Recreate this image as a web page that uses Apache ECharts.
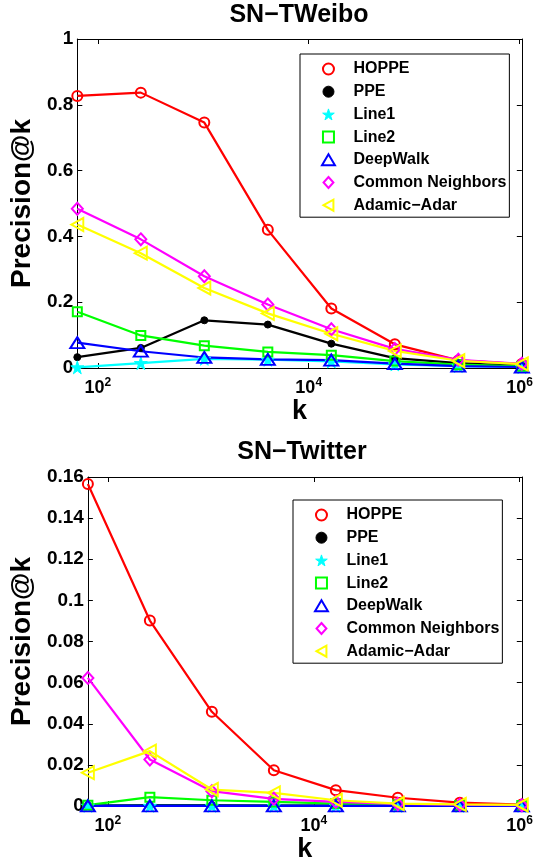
<!DOCTYPE html>
<html>
<head>
<meta charset="utf-8">
<title>Precision@k</title>
<script src="https://cdn.jsdelivr.net/npm/echarts@6/dist/echarts.min.js"></script>
<style>
html, body { margin: 0; padding: 0; background: #fff; }
#chart { width: 536px; height: 866px; }
</style>
</head>
<body>
<div id="chart"></div>
<script>
// k values (powers of 4)
var kValues = [64, 256, 1024, 4096, 16384, 65536, 262144, 1048576];
var xTickValues = [100, 10000, 1000000];

var methodNames = ['HOPPE', 'PPE', 'Line1', 'Line2', 'DeepWalk', 'Common Neighbors', 'Adamic\u2212Adar'];

// SN-TWeibo
var hoppeWeibo = [0.827, 0.837, 0.746, 0.420, 0.181, 0.072, 0.023, 0.012];
var ppeWeibo = [0.033, 0.061, 0.145, 0.132, 0.074, 0.030, 0.015, 0.006];
var line1Weibo = [0.002, 0.015, 0.028, 0.025, 0.020, 0.011, 0.006, 0.003];
var line2Weibo = [0.171, 0.099, 0.068, 0.049, 0.039, 0.021, 0.010, 0.005];
var deepWalkWeibo = [0.077, 0.051, 0.032, 0.026, 0.024, 0.013, 0.006, 0.003];
var cnWeibo = [0.484, 0.391, 0.279, 0.193, 0.118, 0.058, 0.025, 0.013];
var aaWeibo = [0.436, 0.349, 0.243, 0.166, 0.104, 0.052, 0.022, 0.012];

// SN-Twitter
var hoppeTwitter = [0.1566, 0.0902, 0.0458, 0.0174, 0.0077, 0.0040, 0.0016, 0.0007];
var ppeTwitter = [0.0003, 0.0004, 0.0004, 0.0003, 0.0003, 0.0002, 0.0001, 0.0001];
var line1Twitter = [0.0001, 0.0001, 0.0001, 0.0001, 0.0001, 0.0001, 0.0001, 0.0001];
var line2Twitter = [0.0004, 0.0043, 0.0028, 0.0020, 0.0012, 0.0006, 0.0003, 0.0002];
var deepWalkTwitter = [0.0001, 0.0001, 0.0001, 0.0001, 0.0001, 0.0001, 0.0001, 0.0001];
var cnTwitter = [0.0623, 0.0226, 0.0072, 0.0035, 0.0020, 0.0010, 0.0006, 0.0004];
var aaTwitter = [0.0162, 0.0267, 0.0080, 0.0064, 0.0028, 0.0012, 0.0008, 0.0005];

var FONT = '"Liberation Sans", Arial, Helvetica, sans-serif';
var starPath = 'path://M50,0 L61,35 L98,35 L68,57 L79,91 L50,70 L21,91 L32,57 L2,35 L39,35 Z';
var leftTriPath = 'path://M0,50 L90,0 L90,100 Z';
var squarePath = 'path://M0,0 L10,0 L10,10 L0,10 Z';
var triPath = 'path://M50,0 L100,85 L0,85 Z';
var diamondPath = 'path://M45,0 L90,50 L45,100 L0,50 Z';

// marker look for each method
var styles = [
    { color: '#ff0000', symbol: 'circle', size: 10, hollow: true },
    { color: '#000000', symbol: 'circle', size: 7, hollow: false },
    { color: '#00ffff', symbol: starPath, size: 13, hollow: false },
    { color: '#00ff00', symbol: 'rect', size: 9, hollow: true },
    { color: '#0000ff', symbol: 'triangle', size: [14, 11], hollow: true },
    { color: '#ff00ff', symbol: 'diamond', size: [11, 12], hollow: true },
    { color: '#ffff00', symbol: 'triangle', size: [13, 12], hollow: true, rotate: 90 }
];
var legendIcons = ['circle', 'circle', starPath, squarePath, triPath, diamondPath, leftTriPath];

function pairs(values) {
    return kValues.map(function (k, i) { return [k, values[i]]; });
}

function makeSeries(idx, gridIdx, values) {
    var s = styles[idx];
    return {
        name: methodNames[idx],
        type: 'line',
        xAxisIndex: gridIdx * 2,
        yAxisIndex: gridIdx * 2,
        data: pairs(values),
        symbol: s.symbol,
        symbolSize: s.size,
        symbolRotate: s.rotate || 0,
        clip: false,
        animation: false,
        lineStyle: { color: s.color, width: 2.2 },
        itemStyle: {
            color: s.hollow ? 'rgba(0,0,0,0)' : s.color,
            borderColor: s.color,
            borderWidth: s.hollow ? 2 : 1
        }
    };
}

function xAxes(gridIdx) {
    var base = {
        type: 'log', logBase: 10, min: 64, max: 1048576, gridIndex: gridIdx,
        splitLine: { show: false },
        axisLine: { show: true, onZero: false, lineStyle: { color: '#000', width: 1 } },
        axisTick: { inside: true, length: 5, customValues: xTickValues, lineStyle: { color: '#000' } }
    };
    var bottom = Object.assign({}, base, {
        position: 'bottom',
        axisLabel: {
            customValues: xTickValues,
            margin: 9,
            formatter: function (v) {
                return '{b|10}{s|' + Math.round(Math.log10(v)) + '}';
            },
            rich: {
                b: { fontFamily: FONT, fontWeight: 'bold', fontSize: 18, color: '#000' },
                s: { fontFamily: FONT, fontWeight: 'bold', fontSize: 12, color: '#000', padding: [0, 0, 10, 0] }
            }
        },
        name: 'k', nameLocation: 'middle', nameGap: 28,
        nameTextStyle: { fontFamily: FONT, fontWeight: 'bold', fontSize: 27, color: '#000' }
    });
    var top = Object.assign({}, base, {
        position: 'top',
        axisLabel: { show: false }
    });
    return [bottom, top];
}

function yAxes(gridIdx, max, interval, nameGap) {
    var base = {
        type: 'value', min: 0, max: max, interval: interval, gridIndex: gridIdx,
        splitLine: { show: false },
        axisLine: { show: true, onZero: false, lineStyle: { color: '#000', width: 1 } },
        axisTick: { inside: true, length: 5, lineStyle: { color: '#000' } }
    };
    var left = Object.assign({}, base, {
        position: 'left',
        axisLabel: {
            margin: 4,
            fontFamily: FONT, fontWeight: 'bold', fontSize: 19, color: '#000',
            formatter: function (v) { return String(parseFloat(v.toFixed(2))); }
        },
        name: 'Precision@k', nameLocation: 'middle', nameGap: nameGap,
        nameTextStyle: { fontFamily: FONT, fontWeight: 'bold', fontSize: 28, color: '#000' }
    });
    var right = Object.assign({}, base, {
        position: 'right',
        axisLabel: { show: false }
    });
    return [left, right];
}

function legendFor(left, top) {
    return {
        left: left, top: top, orient: 'vertical',
        backgroundColor: '#fff', borderColor: '#000', borderWidth: 1,
        padding: [7, 3, 4, 21],
        itemWidth: 40, itemHeight: 11, itemGap: 6.7,
        textStyle: { fontFamily: FONT, fontWeight: 'bold', fontSize: 16, color: '#000' },
        data: methodNames.map(function (n, i) {
            var s = styles[i];
            return {
                name: n,
                icon: legendIcons[i],
                itemStyle: {
                    color: s.hollow ? 'rgba(0,0,0,0)' : s.color,
                    borderColor: s.color,
                    borderWidth: s.hollow ? 2 : 1
                }
            };
        })
    };
}

var weiboData = [hoppeWeibo, ppeWeibo, line1Weibo, line2Weibo, deepWalkWeibo, cnWeibo, aaWeibo];
var twitterData = [hoppeTwitter, ppeTwitter, line1Twitter, line2Twitter, deepWalkTwitter, cnTwitter, aaTwitter];

var series = [];
weiboData.forEach(function (v, i) { series.push(makeSeries(i, 0, v)); });
twitterData.forEach(function (v, i) { series.push(makeSeries(i, 1, v)); });

var titleStyle = { fontFamily: FONT, fontWeight: 'bold', fontSize: 25, color: '#000' };

var option = {
    backgroundColor: '#fff',
    animation: false,
    title: [
        { text: 'SN\u2212TWeibo', left: 299, top: 3, textAlign: 'center', padding: 0, textStyle: titleStyle },
        { text: 'SN\u2212Twitter', left: 302, top: 440, textAlign: 'center', padding: 0, textStyle: titleStyle }
    ],
    grid: [
        { left: 76, top: 39, width: 447, height: 329 },
        { left: 82, top: 477, width: 441, height: 329 }
    ],
    xAxis: xAxes(0).concat(xAxes(1)),
    yAxis: yAxes(0, 1, 0.2, 39).concat(yAxes(1, 0.16, 0.02, 45)),
    legend: [legendFor(300, 54), legendFor(293, 500)],
    series: series
};

var myChart = echarts.init(document.getElementById('chart'), null, { renderer: 'canvas' });
myChart.setOption(option);
</script>
</body>
</html>
